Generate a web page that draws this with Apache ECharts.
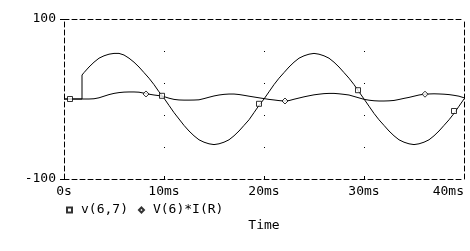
<!DOCTYPE html>
<html>
<head>
<meta charset="utf-8">
<script src="https://cdn.jsdelivr.net/npm/echarts@6/dist/echarts.min.js"></script>
<style>
html,body{margin:0;padding:0;background:#fff;}
#c{width:470px;height:251px;}
</style>
</head>
<body>
<div id="c"></div>
<script>
// x tick values (ms) and labels
const xTicks = [0, 10, 20, 30, 40];
const xTickLabels = ['0s', '10ms', '20ms', '30ms', '40ms'];
const yTicks = [-100, 100];

// v(6,7): [time ms, value]
const v67 = [[0,0],[0.5,0],[1,0],[1.5,0],[1.8,0],[1.8,30],[2,33],[2.5,40],[3,46],[3.5,51],[4,54],[4.5,56],[5,57],[5.5,57],[6,55],[6.5,51],[7,46],[7.5,40],[8,33],[8.5,26],[9,18],[9.5,9],[10,1],[10.5,-8],[11,-17],[11.5,-25],[12,-33],[12.5,-40],[13,-46],[13.5,-51],[14,-54],[14.5,-56],[15,-57],[15.5,-56],[16,-54],[16.5,-51],[17,-46],[17.5,-40],[18,-33],[18.5,-26],[19,-17],[19.5,-8],[20,0],[20.5,9],[21,18],[21.5,26],[22,33],[22.5,40],[23,46],[23.5,51],[24,54],[24.5,56],[25,57],[25.5,56],[26,54],[26.5,51],[27,46],[27.5,40],[28,33],[28.5,26],[29,18],[29.5,9],[30,0],[30.5,-9],[31,-18],[31.5,-26],[32,-33],[32.5,-40],[33,-46],[33.5,-51],[34,-54],[34.5,-56],[35,-57],[35.5,-56],[36,-54],[36.5,-51],[37,-46],[37.5,-40],[38,-33],[38.5,-26],[39,-18],[39.5,-9],[40,0]];
// V(6)*I(R): [time ms, value]
const power = [[0,0],[0.5,0],[1,0],[1.5,0],[2,0],[2.5,0],[3,0.3],[3.5,1.5],[4,3.5],[4.5,5.5],[5,7],[5.5,8],[6,8.6],[6.5,8.8],[7,8.8],[7.5,8.5],[8,7.3],[8.5,6],[9,5],[9.5,4.2],[10,3],[10.5,1],[11,-0.5],[11.5,-1.2],[12,-1.4],[12.5,-1.4],[13,-1.3],[13.5,-1],[14,0.5],[14.5,2.2],[15,3.8],[15.5,5],[16,5.8],[16.5,6.2],[17,6.2],[17.5,5.6],[18,4.6],[18.5,3.5],[19,2.5],[19.5,1.5],[20,0.5],[20.5,-0.5],[21,-1.2],[21.5,-2],[22,-2.5],[22.5,-2],[23,-0.3],[23.5,1.2],[24,2.7],[24.5,4],[25,5.2],[25.5,6],[26,6.7],[26.5,7],[27,7],[27.5,6.5],[28,5.8],[28.5,5],[29,3.2],[29.5,1.4],[30,-0.4],[30.5,-1.5],[31,-2.2],[31.5,-2.5],[32,-2.5],[32.5,-2.3],[33,-1.8],[33.5,-0.6],[34,0.8],[34.5,2],[35,3.5],[35.5,5],[36,5.9],[36.5,6.3],[37,6.5],[37.5,6.3],[38,6],[38.5,5.5],[39,4.6],[39.5,3.5],[40,1.5]];
// marker positions
const v67Marks = [[0.6,0],[9.8,4],[19.5,-6],[29.4,11],[39.0,-15]];
const powerMarks = [[8.2,6.3],[22.1,-2.5],[36.1,6]];

const FONT = 'DejaVu Sans Mono';
const dashed = {color:'#000', width:1, type:[5,3]};

const chart = echarts.init(document.getElementById('c'), null, {renderer:'canvas'});
chart.setOption({
  backgroundColor:'#fff',
  animation:false,
  grid:{left:64, right:6, top:19, bottom:72},
  legend:{
    left:66, top:203, padding:0, itemWidth:5, itemHeight:5, itemGap:10,
    textStyle:{fontFamily:FONT, fontSize:13, color:'#000', lineHeight:14, padding:[0,0,0,4]},
    data:[{name:'v(6,7)', icon:'rect'},{name:'V(6)*I(R)', icon:'diamond'}]
  },
  xAxis:[{
    type:'value', position:'bottom', min:0, max:40, interval:10,
    axisLine:{show:true, onZero:false, lineStyle:dashed},
    axisTick:{show:true, inside:true, length:3, lineStyle:{color:'#000'}},
    axisLabel:{color:'#000', fontFamily:FONT, fontSize:13, margin:6, alignMaxLabel:'right',
      formatter:v => xTickLabels[xTicks.indexOf(v)]},
    splitLine:{show:true, showMinLine:false, showMaxLine:false,
      lineStyle:{color:'#000', width:1, type:[1,31,1,31,1,31,1,63], dashOffset:128}},
    name:'Time', nameLocation:'middle', nameGap:40,
    nameTextStyle:{fontFamily:FONT, fontSize:13, color:'#000'}
  },{
    type:'value', position:'top', min:0, max:40, interval:10,
    axisLine:{show:true, onZero:false, lineStyle:dashed},
    axisTick:{show:false}, axisLabel:{show:false}, splitLine:{show:false}
  }],
  yAxis:[{
    type:'value', position:'left', min:-100, max:100, interval:100,
    axisLine:{show:true, onZero:false, lineStyle:dashed},
    axisTick:{show:true, length:4, customValues:yTicks, lineStyle:{color:'#000'}},
    axisLabel:{color:'#000', fontFamily:FONT, fontSize:13, margin:8, customValues:yTicks},
    splitLine:{show:false}
  },{
    type:'value', position:'right', min:-100, max:100, interval:100,
    axisLine:{show:true, onZero:false, lineStyle:dashed},
    axisTick:{show:false}, axisLabel:{show:false}, splitLine:{show:false}
  }],
  series:[
    {name:'v67line', type:'line', data:v67, showSymbol:false, symbol:'none',
     lineStyle:{color:'#000', width:1}, z:3},
    {name:'powline', type:'line', data:power, showSymbol:false, symbol:'none',
     lineStyle:{color:'#000', width:1}, z:3},
    {name:'v(6,7)', type:'scatter', data:v67Marks, symbol:'rect', symbolSize:5,
     itemStyle:{color:'#fff', borderColor:'#000', borderWidth:1}, z:5},
    {name:'V(6)*I(R)', type:'scatter', data:powerMarks, symbol:'diamond', symbolSize:6,
     itemStyle:{color:'#fff', borderColor:'#000', borderWidth:1}, z:5}
  ]
});
</script>
</body>
</html>
